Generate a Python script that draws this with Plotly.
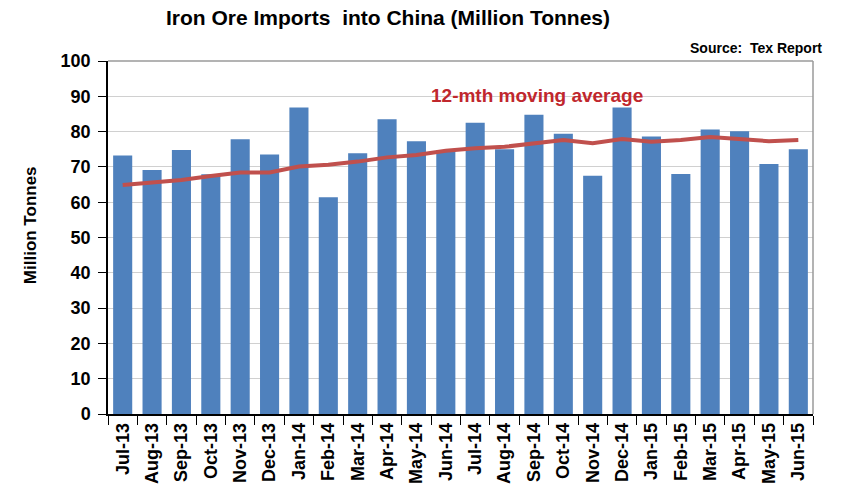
import plotly.graph_objects as go

months = ["Jul-13", "Aug-13", "Sep-13", "Oct-13", "Nov-13", "Dec-13", "Jan-14", "Feb-14",
          "Mar-14", "Apr-14", "May-14", "Jun-14", "Jul-14", "Aug-14", "Sep-14", "Oct-14",
          "Nov-14", "Dec-14", "Jan-15", "Feb-15", "Mar-15", "Apr-15", "May-15", "Jun-15"]
imports = [73.2, 69.1, 74.8, 67.9, 77.8, 73.5, 86.8, 61.4, 73.9, 83.5, 77.3, 74.8,
           82.5, 75.0, 84.8, 79.4, 67.5, 86.8, 78.6, 68.0, 80.6, 80.1, 70.8, 75.0]
moving_avg = [64.9, 65.5, 66.3, 67.4, 68.4, 68.4, 70.1, 70.6, 71.5, 72.7, 73.4, 74.6,
              75.3, 75.7, 76.7, 77.6, 76.7, 77.9, 77.1, 77.6, 78.5, 78.0, 77.3, 77.6]
y_ticks = [0, 10, 20, 30, 40, 50, 60, 70, 80, 90, 100]

fig = go.Figure()
fig.add_trace(go.Bar(x=months, y=imports, marker=dict(color="#4F81BD", line=dict(width=0)),
                     showlegend=False))
fig.add_trace(go.Scatter(x=months, y=moving_avg, mode="lines",
                         line=dict(color="#C0504D", width=4), showlegend=False))

fig.update_layout(
    width=843, height=489,
    margin=dict(l=108, r=30, t=61, b=75),
    paper_bgcolor="white", plot_bgcolor="white",
    bargap=0.35,
    font=dict(family="Liberation Sans, Arial, sans-serif", color="black"),
    title=dict(text="<b>Iron Ore Imports  into China (Million Tonnes)</b>",
               x=388 / 843, xanchor="center", y=0.963, yanchor="middle",
               font=dict(family="Liberation Sans, Arial", size=21, color="black")),
    xaxis=dict(tickangle=-90, ticks="outside", tickson="boundaries", ticklen=9, tickcolor="black",
               showline=True, linecolor="black", linewidth=1.5, showgrid=False, automargin=False,
               tickfont=dict(size=18, family="Liberation Sans, Arial", color="black", weight="bold")),
    yaxis=dict(range=[0, 100], tickvals=y_ticks, ticks="outside", ticklen=8, tickcolor="black",
               ticklabelstandoff=4, automargin=False,
               showline=True, linecolor="black", linewidth=1.5, showgrid=True, gridcolor="#D0D0D0",
               tickfont=dict(size=18, color="black", weight="bold"),
               zeroline=False),
    shapes=[dict(type="line", xref="paper", yref="paper", x0=0, x1=1, y0=1, y1=1,
                 line=dict(color="#9A9A9A", width=1.5)),
            dict(type="line", xref="paper", yref="paper", x0=1, x1=1, y0=0, y1=1,
                 line=dict(color="#9A9A9A", width=1.5))],
    annotations=[
        dict(text="<b>Million Tonnes</b>", xref="paper", yref="paper", x=-0.1106, y=0.535,
             xanchor="center", yanchor="middle", textangle=-90, showarrow=False,
             font=dict(size=17, color="black")),
        dict(text="<b>Source:  Tex Report</b>", xref="paper", yref="paper", x=1.015, y=1.008,
             xanchor="right", yanchor="bottom", showarrow=False,
             font=dict(size=14, family="Liberation Sans, Arial", color="black")),
        dict(text="<b>12-mth moving average</b>", xref="paper", yref="paper", x=0.609, y=0.902,
             xanchor="center", yanchor="middle", showarrow=False,
             font=dict(size=19, color="#C0272D")),
    ],
)

fig.write_html("out.html")
